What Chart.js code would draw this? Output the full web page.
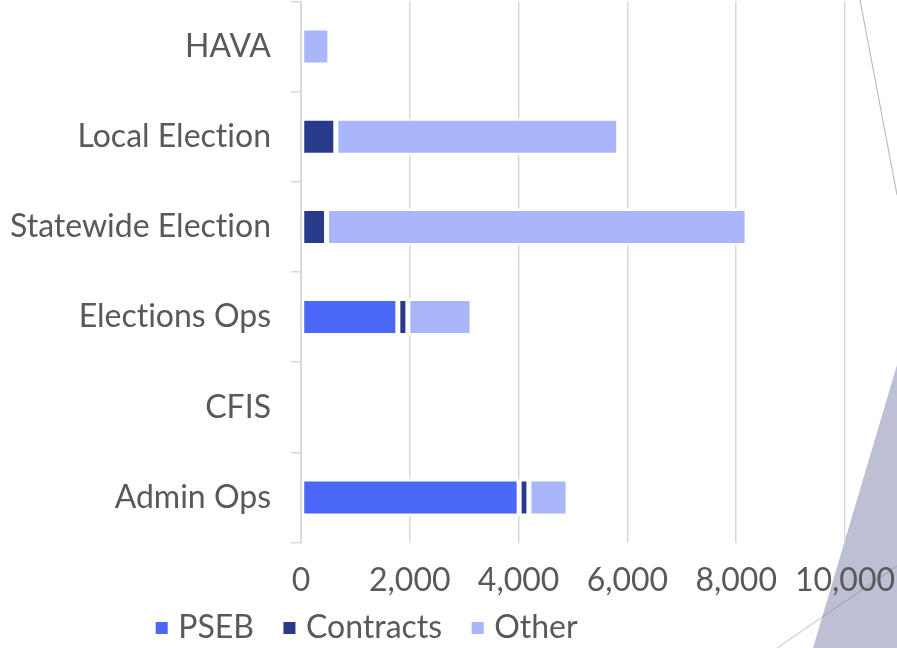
<!DOCTYPE html>
<html lang="en">
<head>
<meta charset="UTF-8">
<title>Spending by program</title>
<script src="https://cdn.jsdelivr.net/npm/chart.js"></script>
<style>
  html, body { margin: 0; padding: 0; background: #fff; overflow: hidden; }
  canvas { display: block; }
</style>
</head>
<body>
<canvas id="chart" width="897" height="648"></canvas>
<script>
// Data
const categories = ['HAVA', 'Local Election', 'Statewide Election', 'Elections Ops', 'CFIS', 'Admin Ops'];
const pseb = [0, 0, 0, 1780, 0, 4010];
const contracts = [0, 640, 470, 185, 0, 180];
const other = [530, 5200, 7730, 1180, 0, 720];
const xMax = 10000;
const xStep = 2000;

const textColor = '#595959';
const gridColor = '#d9d9d9';
const font = { family: "Lato, 'Liberation Sans', sans-serif", size: 32 };

// Slide decoration behind the chart, plus legend placement
const backdrop = {
  id: 'backdrop',
  beforeDraw(chart) {
    const ctx = chart.ctx;
    ctx.save();
    ctx.fillStyle = '#bdc0d5';
    ctx.beginPath();
    ctx.moveTo(897, 365);
    ctx.lineTo(813, 648);
    ctx.lineTo(897, 648);
    ctx.closePath();
    ctx.fill();
    ctx.lineWidth = 1.2;
    ctx.strokeStyle = '#bdbdbd';
    ctx.beginPath();
    ctx.moveTo(860, 0);
    ctx.lineTo(897, 195);
    ctx.stroke();
    ctx.strokeStyle = 'rgba(120,120,120,0.35)';
    ctx.beginPath();
    ctx.moveTo(777, 648);
    ctx.lineTo(897, 566);
    ctx.stroke();
    ctx.restore();

    // no "ti" ligature in the labels
    ctx.textRendering = 'optimizeSpeed';

    // legend sits left of centre on the slide
    const lg = chart.legend;
    lg.left = 126.2;
    lg.top = 577;
  }
};

const ds = (label, data, color) => ({
  label: label,
  data: data,
  backgroundColor: color,
  borderColor: '#ffffff',
  borderWidth: 2.5,
  borderSkipped: false,
  barPercentage: 0.411,
  categoryPercentage: 1
});

new Chart(document.getElementById('chart'), {
  type: 'bar',
  data: {
    labels: categories,
    datasets: [
      ds('PSEB', pseb, '#4a67f7'),
      ds('Contracts', contracts, '#2a3a8b'),
      ds('Other', other, '#a9b7fa')
    ]
  },
  options: {
    indexAxis: 'y',
    responsive: false,
    animation: false,
    devicePixelRatio: 1,
    // negative bottom so the legend can overlap the tick label strip
    layout: { padding: { top: 1.5, right: 52, left: 0, bottom: -31.5 } },
    scales: {
      x: {
        stacked: true,
        min: 0,
        max: xMax,
        ticks: {
          stepSize: xStep,
          padding: 18.8,
          color: textColor,
          font: font,
          maxRotation: 0,
          callback: v => v.toLocaleString('en-US')
        },
        grid: { color: gridColor, lineWidth: 1.5, drawTicks: false },
        border: { display: false },
        afterFit: s => {
          s.height = 60;
          s.paddingLeft = 0;
          s.paddingRight = 0;
        }
      },
      y: {
        stacked: true,
        ticks: { color: textColor, font: font, padding: 20 },
        grid: { drawOnChartArea: false, color: gridColor, lineWidth: 1.5, tickLength: 10 },
        border: { color: gridColor, width: 2 },
        afterFit: s => {
          s.width = 301;
          s.paddingTop = 0;
          s.paddingBottom = 0;
        }
      }
    },
    plugins: {
      tooltip: { enabled: false },
      legend: {
        position: 'bottom',
        align: 'start',
        labels: {
          usePointStyle: true,
          pointStyle: 'rect',
          boxWidth: 1,
          boxHeight: 12,
          padding: 35,
          color: textColor,
          font: font,
          generateLabels(chart) {
            return Chart.defaults.plugins.legend.labels.generateLabels(chart)
              .map(item => ({ ...item, lineWidth: 0, strokeStyle: item.fillStyle }));
          }
        }
      }
    }
  },
  plugins: [backdrop]
});
</script>
</body>
</html>
